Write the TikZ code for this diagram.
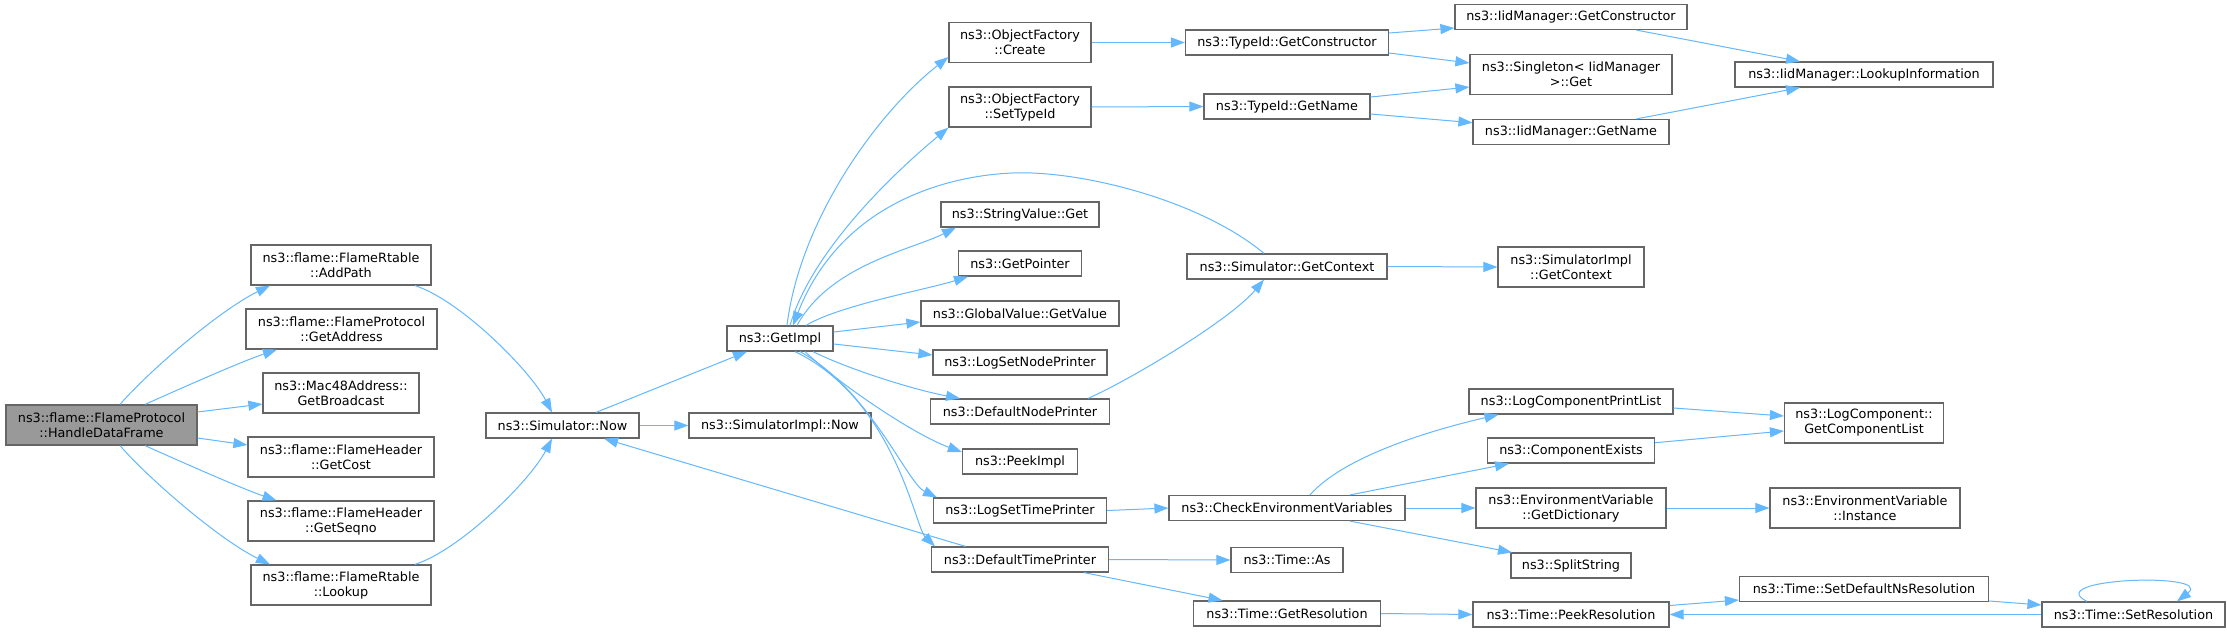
\documentclass[tikz,border=0pt]{standalone}
\usepackage{fontspec}
\setmainfont{DejaVu Sans}
\usetikzlibrary{arrows.meta}
\definecolor{boxgray}{HTML}{666666}
\definecolor{edgeblue}{HTML}{63B8FF}
\definecolor{rootfill}{HTML}{999999}
\begin{document}
\begin{tikzpicture}[x=1pt,y=-1pt,
  fn/.style={draw=boxgray, line width=1.2pt, fill=white, inner sep=0pt, align=center,
    font=\fontsize{12.8}{15}\selectfont, minimum height=25pt},
  two/.style={minimum height=40pt},
  calls/.style={draw=edgeblue, line width=1pt, -{Triangle[length=14pt,width=10pt]}, edgeblue}]
\useasboundingbox[fill=white] (0,0) rectangle (2227,632);

% column 0
\node[fn,two,fill=rootfill,minimum width=191pt] (hdf) at (101.5,425) {ns3::flame::FlameProtocol\\::HandleDataFrame};
% column 1
\node[fn,two,minimum width=180pt] (addpath) at (341,265) {ns3::flame::FlameRtable\\::AddPath};
\node[fn,two,minimum width=191pt] (getaddr) at (341.5,329) {ns3::flame::FlameProtocol\\::GetAddress};
\node[fn,two,minimum width=156pt] (bcast) at (341,393) {ns3::Mac48Address::\\GetBroadcast};
\node[fn,two,minimum width=186pt] (cost) at (341,457) {ns3::flame::FlameHeader\\::GetCost};
\node[fn,two,minimum width=186pt] (seqno) at (341,521) {ns3::flame::FlameHeader\\::GetSeqno};
\node[fn,two,minimum width=180pt] (lookup) at (341,585) {ns3::flame::FlameRtable\\::Lookup};
% column 2
\node[fn,minimum width=153pt] (simnow) at (562.5,425.5) {ns3::Simulator::Now};
% column 3
\node[fn,minimum width=106pt] (getimpl) at (780,338.5) {ns3::GetImpl};
\node[fn,minimum width=182pt] (simimplnow) at (780,425.5) {ns3::SimulatorImpl::Now};
% column 4
\node[fn,two,minimum width=142pt] (create) at (1020,42.5) {ns3::ObjectFactory\\::Create};
\node[fn,two,minimum width=142pt] (settypeid) at (1020,107) {ns3::ObjectFactory\\::SetTypeId};
\node[fn,minimum width=158pt] (strget) at (1020,214.5) {ns3::StringValue::Get};
\node[fn,minimum width=123pt] (getptr) at (1020,263.5) {ns3::GetPointer};
\node[fn,minimum width=198pt] (gvget) at (1020,313.5) {ns3::GlobalValue::GetValue};
\node[fn,minimum width=174pt] (lsnp) at (1020,362.5) {ns3::LogSetNodePrinter};
\node[fn,minimum width=179pt] (dnp) at (1020,411.5) {ns3::DefaultNodePrinter};
\node[fn,minimum width=115pt] (peekimpl) at (1020,461.5) {ns3::PeekImpl};
\node[fn,minimum width=173pt] (lstp) at (1020,510.5) {ns3::LogSetTimePrinter};
\node[fn,minimum width=177pt] (dtp) at (1020,559.5) {ns3::DefaultTimePrinter};
% column 5
\node[fn,minimum width=203pt] (tidgc) at (1287,42.5) {ns3::TypeId::GetConstructor};
\node[fn,minimum width=166pt] (tidgn) at (1287,106.5) {ns3::TypeId::GetName};
\node[fn,minimum width=200pt] (simgc) at (1287,266.5) {ns3::Simulator::GetContext};
\node[fn,minimum width=236pt] (checkenv) at (1287,508) {ns3::CheckEnvironmentVariables};
\node[fn,minimum width=112pt] (timeas) at (1287,560) {ns3::Time::As};
\node[fn,minimum width=187pt] (getres) at (1287,613.5) {ns3::Time::GetResolution};
% column 6
\node[fn,minimum width=232pt] (iidgc) at (1571,17) {ns3::IidManager::GetConstructor};
\node[fn,two,minimum width=202pt] (singleton) at (1571,74.5) {ns3::Singleton\textless{} IidManager\\ \textgreater::Get};
\node[fn,minimum width=196pt] (iidgn) at (1571,132) {ns3::IidManager::GetName};
\node[fn,two,minimum width=146pt] (simimplgc) at (1571,267) {ns3::SimulatorImpl\\::GetContext};
\node[fn,minimum width=204pt] (lcpl) at (1571,401.5) {ns3::LogComponentPrintList};
\node[fn,minimum width=167pt] (compex) at (1571,450.5) {ns3::ComponentExists};
\node[fn,two,minimum width=190pt] (getdict) at (1571,508) {ns3::EnvironmentVariable\\::GetDictionary};
\node[fn,minimum width=120pt] (split) at (1571,565.5) {ns3::SplitString};
\node[fn,minimum width=196pt] (peekres) at (1571,614.5) {ns3::Time::PeekResolution};
% column 7
\node[fn,minimum width=258pt] (lookupinfo) at (1864,74.5) {ns3::IidManager::LookupInformation};
\node[fn,two,minimum width=159pt] (getcl) at (1864,423) {ns3::LogComponent::\\GetComponentList};
\node[fn,two,minimum width=190pt] (instance) at (1865,508) {ns3::EnvironmentVariable\\::Instance};
\node[fn,minimum width=249pt] (setdef) at (1864,589) {ns3::Time::SetDefaultNsResolution};
% column 8
\node[fn,minimum width=183pt] (setres) at (2133.5,614.5) {ns3::Time::SetResolution};

% edges from HandleDataFrame
\draw[calls] ([xshift=18.5pt]hdf.north) .. controls (150,370) and (220,310) .. ([xshift=-71pt]addpath.south);
\draw[calls] ([xshift=43.5pt]hdf.north) .. controls (175,391) and (240,362) .. ([xshift=-64.5pt]getaddr.south);
\draw[calls] ([yshift=13pt]hdf.east) -- ([yshift=-11pt]bcast.west);
\draw[calls] ([yshift=-13pt]hdf.east) -- ([yshift=12pt]cost.west);
\draw[calls] ([xshift=43.5pt]hdf.south) .. controls (175,459) and (240,488) .. ([xshift=-64.5pt]seqno.north);
\draw[calls] ([xshift=18.5pt]hdf.south) .. controls (150,480) and (220,540) .. ([xshift=-71pt]lookup.north);
% to Simulator::Now
\draw[calls] ([xshift=74pt]addpath.south) .. controls (460,300) and (530,370) .. ([xshift=-10.5pt]simnow.north);
\draw[calls] ([xshift=74pt]lookup.north) .. controls (460,550) and (530,481) .. ([xshift=-10.5pt]simnow.south);
\draw[calls] ([xshift=33.5pt]simnow.north) -- ([xshift=-33pt]getimpl.south);
\draw[calls] (simnow.east) -- (simimplnow.west);
% from GetImpl
\draw[calls] ([xshift=7pt]getimpl.north) .. controls (800,220) and (877,113) .. ([yshift=-14.5pt]create.west);
\draw[calls] ([xshift=10pt]getimpl.north) .. controls (812,250) and (895,172) .. (settypeid.south west);
\draw[calls] ([xshift=17pt]getimpl.north) .. controls (830,265) and (911,250) .. ([xshift=-64pt]strget.south);
\draw[calls] ([xshift=26pt]getimpl.north) .. controls (840,305) and (925,290) .. ([xshift=-52pt]getptr.south);
\draw[calls] ([yshift=6.5pt]getimpl.east) -- ([yshift=-8.5pt]gvget.west);
\draw[calls] ([yshift=-5.5pt]getimpl.east) -- ([yshift=7.5pt]lsnp.west);
\draw[calls] ([xshift=33pt]getimpl.south) .. controls (850,370) and (915,390) .. ([xshift=-60pt]dnp.north);
\draw[calls] ([xshift=25pt]getimpl.south) .. controls (840,385) and (915,435) .. ([yshift=9.5pt]peekimpl.west);
\draw[calls] ([xshift=20pt]getimpl.south) .. controls (870,390) and (907,483) .. ([xshift=-83pt]lstp.north);
\draw[calls] ([xshift=15pt]getimpl.south) .. controls (895,400) and (915,527) .. ([xshift=-85pt]dtp.north);
% Simulator::GetContext back to GetImpl
\draw[calls] ([xshift=-23pt]simgc.north) .. controls (1200,200) and (1080,170) .. (1012,173)
   .. controls (944,176) and (840,205) .. ([xshift=13pt]getimpl.north);
\draw[calls] ([xshift=68pt]dnp.north) .. controls (1130,380) and (1230,320) .. ([xshift=-23pt]simgc.south);
\draw[calls] ([xshift=-54.5pt]dtp.north) -- ([xshift=41.5pt]simnow.south);
\draw[calls] (dtp.east) -- (timeas.west);
\draw[calls] ([xshift=64pt]dtp.south) -- ([xshift=-64.5pt]getres.north);
\draw[calls] (lstp.east) -- (checkenv.west);
% ObjectFactory / TypeId
\draw[calls] (create.east) -- (tidgc.west);
\draw[calls] (settypeid.east) -- (tidgn.west);
\draw[calls] ([yshift=9.5pt]tidgc.east) -- ([yshift=-11pt]iidgc.west);
\draw[calls] ([yshift=-10.5pt]tidgc.east) -- ([yshift=11.5pt]singleton.west);
\draw[calls] ([yshift=9.5pt]tidgn.east) -- ([yshift=-12.5pt]singleton.west);
\draw[calls] ([yshift=-7.5pt]tidgn.east) -- ([yshift=9.3pt]iidgn.west);
\draw[calls] ([xshift=65.5pt]iidgc.south) -- ([xshift=-64pt]lookupinfo.north);
\draw[calls] ([xshift=65.5pt]iidgn.north) -- ([xshift=-64pt]lookupinfo.south);
\draw[calls] (simgc.east) -- (simimplgc.west);
% CheckEnvironmentVariables
\draw[calls] ([xshift=23pt]checkenv.north) .. controls (1345,455) and (1436,429) .. ([xshift=-72.5pt]lcpl.south);
\draw[calls] ([xshift=63pt]checkenv.north) -- ([xshift=-62pt]compex.south);
\draw[calls] (checkenv.east) -- (getdict.west);
\draw[calls] ([xshift=63pt]checkenv.south) -- ([xshift=-59pt]split.north);
\draw[calls] ([yshift=-6.5pt]lcpl.east) -- ([yshift=7pt]getcl.west);
\draw[calls] ([yshift=7.8pt]compex.east) -- ([yshift=-8pt]getcl.west);
\draw[calls] (getdict.east) -- (instance.west);
% Time resolution
\draw[calls] (getres.east) -- (peekres.west);
\draw[calls] ([yshift=9pt]peekres.east) -- ([yshift=-11pt]setdef.west);
\draw[calls] ([yshift=-12pt]setdef.east) -- ([yshift=9.5pt]setres.west);
\draw[calls] (setres.west) -- (peekres.east);
\draw[calls] ([xshift=-46.5pt]setres.north) .. controls (2040,578) and (2215,572) .. ([xshift=43.5pt]setres.north);
\end{tikzpicture}
\end{document}
